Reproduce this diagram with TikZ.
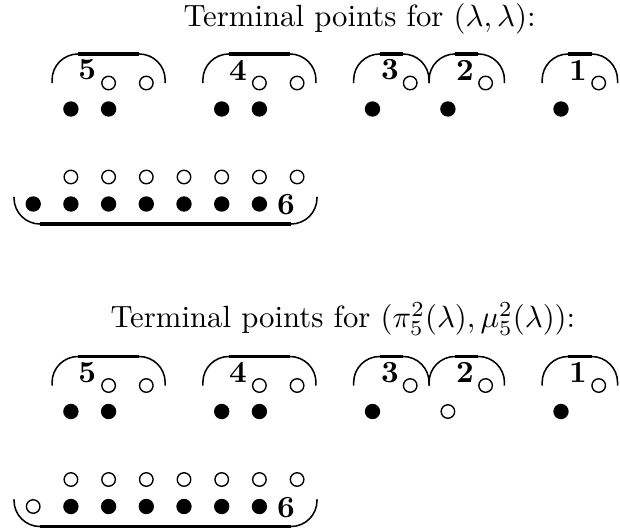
\documentclass[tikz,border=0pt]{standalone}
\begin{document}
\begin{tikzpicture}[x=12.268pt,y=12.268pt,
  fdot/.style={circle,fill=black,inner sep=0pt,minimum size=5pt},
  odot/.style={circle,draw=black,line width=0.45pt,inner sep=0pt,minimum size=4.4pt},
  numlab/.style={inner sep=0pt,font=\bfseries},
  title/.style={inner sep=0pt,anchor=base west},
  arcline/.style={line width=0.5pt,rounded corners=8.46pt},
  barline/.style={line width=1pt}]
\useasboundingbox (-0.8806,0) rectangle (15.565,-14.032);
% bracket macros
\newcommand{\topbrk}[4]{%
  \draw[arcline] (#1,#4) -- (#1,#3) -- (#2,#3) -- (#2,#4);
  \draw[barline] ({#1+0.69},#3) -- ({#2-0.69},#3);}
\newcommand{\botbrk}[4]{%
  \draw[arcline] (#1,#4) -- (#1,#3) -- (#2,#3) -- (#2,#4);
  \draw[barline] ({#1+0.69},#3) -- ({#2-0.69},#3);}
% ---------- block 1 ----------
\node[title] (t1) at (3.973,-0.708) {Terminal points for $(\lambda,\lambda)$:};
\begin{scope}
\foreach \c in {2,3,6,7,10,12,15} \node[odot] (ao\c) at (\c,-2.202) {};
\foreach \c in {1,2,5,6,9,11,14} \node[fdot] (af\c) at (\c,-2.891) {};
\node[numlab] (an5) at (1.43,-1.857) {5};
\node[numlab] (an4) at (5.43,-1.857) {4};
\node[numlab] (an3) at (9.46,-1.857) {3};
\node[numlab] (an2) at (11.45,-1.857) {2};
\node[numlab] (an1) at (14.45,-1.857) {1};
\topbrk{0.5}{3.5}{-1.432}{-2.202}
\topbrk{4.5}{7.5}{-1.432}{-2.202}
\topbrk{8.5}{10.5}{-1.432}{-2.202}
\topbrk{10.5}{12.5}{-1.432}{-2.202}
\topbrk{13.5}{15.5}{-1.432}{-2.202}
\foreach \c in {1,...,7} \node[odot] (abo\c) at (\c,-4.695) {};
\foreach \c in {0,...,6} \node[fdot] (abf\c) at (\c,-5.411) {};
\node[numlab] (an6) at (6.706,-5.438) {6};
\botbrk{-0.509}{7.528}{-5.942}{-5.225}
\end{scope}
% ---------- block 2 ----------
\node[title] (t2) at (2.037,-8.70) {Terminal points for $(\pi_5^2(\lambda),\mu_5^2(\lambda))$:};
\begin{scope}[yshift=-8.024*12.268pt]
\foreach \c in {2,3,6,7,10,12,15} \node[odot] (bo\c) at (\c,-2.202) {};
\foreach \c in {1,2,5,6,9,14} \node[fdot] (bf\c) at (\c,-2.891) {};
\node[odot] (bo11) at (11,-2.891) {};
\node[numlab] (bn5) at (1.43,-1.857) {5};
\node[numlab] (bn4) at (5.43,-1.857) {4};
\node[numlab] (bn3) at (9.46,-1.857) {3};
\node[numlab] (bn2) at (11.45,-1.857) {2};
\node[numlab] (bn1) at (14.45,-1.857) {1};
\topbrk{0.5}{3.5}{-1.432}{-2.202}
\topbrk{4.5}{7.5}{-1.432}{-2.202}
\topbrk{8.5}{10.5}{-1.432}{-2.202}
\topbrk{10.5}{12.5}{-1.432}{-2.202}
\topbrk{13.5}{15.5}{-1.432}{-2.202}
\foreach \c in {1,...,7} \node[odot] (bbo\c) at (\c,-4.695) {};
\node[odot] (bbo0) at (0,-5.411) {};
\foreach \c in {1,...,6} \node[fdot] (bbf\c) at (\c,-5.411) {};
\node[numlab] (bn6) at (6.706,-5.438) {6};
\botbrk{-0.509}{7.528}{-5.942}{-5.225}
\end{scope}
\end{tikzpicture}
\end{document}
